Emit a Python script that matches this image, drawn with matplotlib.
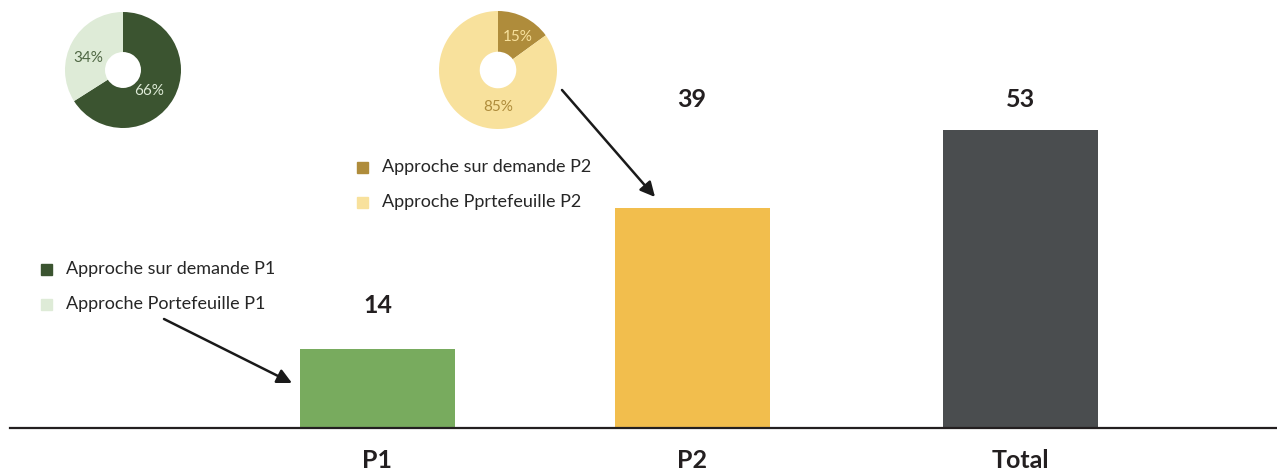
import matplotlib
matplotlib.use("Agg")
import matplotlib.pyplot as plt
import matplotlib.transforms as mtransforms
from matplotlib.patches import Rectangle, FancyArrowPatch

plt.rcParams['font.family'] = ['Lato', 'DejaVu Sans']

# Data
CATEGORIES = ['P1', 'P2', 'Total']
BAR_VALUES = [14, 39, 53]
PIE_P1 = [66, 34]
PIE_P2 = [15, 85]
LEGEND_P1 = ['Approche sur demande P1', 'Approche Portefeuille P1']
LEGEND_P2 = ['Approche sur demande P2', 'Approche Pprtefeuille P2']

# Layout (pixels of a 1277x472 canvas)
W, H = 1277, 472
BASE_Y = 428          # baseline, from top
PX_PER_UNIT = 5.63
BAR_X = [377.5, 692, 1020]
BAR_W = 155
LABEL_OFFSET = [44, 109, 30]   # value label above bar top (px)

BAR_COLORS = ['#78AB5E', '#F2BE4D', '#4A4D4F']
P1_COLORS = ['#3B5430', '#DEEBD7']
P2_COLORS = ['#AF8C3B', '#F8E19C']
TEXT_DARK = '#231F20'

fig = plt.figure(figsize=(W / 100, H / 100), dpi=100)
px = mtransforms.Affine2D().scale(1 / W, 1 / H) + fig.transFigure

# Main bar axes: spans from baseline to top of the figure
ax = fig.add_axes([0, (H - BASE_Y) / H, 1, BASE_Y / H])
ax.set_xlim(0, W)
ax.set_ylim(0, BASE_Y / PX_PER_UNIT)
ax.axis('off')

ax.bar(BAR_X, BAR_VALUES, width=BAR_W, color=BAR_COLORS, zorder=2)
ax.axhline(0, xmin=10 / W, xmax=1, color=TEXT_DARK, lw=1.6, zorder=3, clip_on=False)

for x, v, off in zip(BAR_X, BAR_VALUES, LABEL_OFFSET):
    ax.annotate(str(v), (x, v), xytext=(0, off), textcoords='offset pixels',
                ha='center', va='center', fontsize=18, fontweight='bold', color=TEXT_DARK)

for x, cat in zip(BAR_X, CATEGORIES):
    ax.annotate(cat, (x, 0), xytext=(0, -32), textcoords='offset pixels',
                ha='center', va='center', fontsize=18, fontweight='bold',
                color=TEXT_DARK, annotation_clip=False)


def draw_donut(cx, cy, r, values, colors, pct_colors, pct_pos):
    pax = fig.add_axes([(cx - r) / W, (H - cy - r) / H, 2 * r / W, 2 * r / H])
    wedges, texts, autotexts = pax.pie(
        values, colors=colors, startangle=90, counterclock=False,
        wedgeprops=dict(width=0.69, edgecolor='none'),
        autopct='%d%%', pctdistance=0.62)
    for t, c, pos in zip(autotexts, pct_colors, pct_pos):
        t.set_color(c)
        t.set_fontsize(11)
        t.set_position(pos)
    pax.set_xlim(-1, 1)
    pax.set_ylim(-1, 1)
    pax.set_aspect('equal')


draw_donut(123, 70, 58, PIE_P1, P1_COLORS, ['#DEEBD7', '#4E6642'],
           [(0.45, -0.36), (-0.6, 0.2)])
draw_donut(498, 70, 59, PIE_P2, P2_COLORS, ['#F8E19C', '#AF8C3B'],
           [(0.34, 0.56), (0.0, -0.62)])


def draw_legend(x, rows_y, labels, colors):
    for y, lab, c in zip(rows_y, labels, colors):
        fig.add_artist(Rectangle((x, H - y - 5.5), 11, 11, color=c, transform=px))
        fig.text((x + 25) / W, 1 - y / H, lab, ha='left', va='center',
                 fontsize=13, color='#262626')


draw_legend(41, [269, 304], LEGEND_P1, P1_COLORS)
draw_legend(357, [167, 202], LEGEND_P2, P2_COLORS)

# Arrows from legends to bars
for start, tip in [((164, 319), (292, 383)), ((562, 90), (655, 197))]:
    fig.add_artist(FancyArrowPatch((start[0], H - start[1]), (tip[0], H - tip[1]),
                                   arrowstyle='-|>', mutation_scale=22, lw=1.8,
                                   color='#1A1A1A', shrinkA=0, shrinkB=0,
                                   transform=px))

fig.savefig('out.png', dpi=100)
